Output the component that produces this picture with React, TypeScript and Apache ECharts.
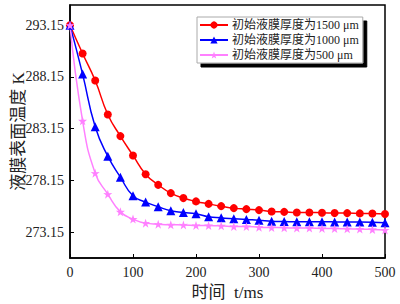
import React, { useEffect, useRef } from "react";
import * as echarts from "echarts";

const times = [0, 20, 40, 60, 80, 100, 120, 140, 160, 180, 200, 220, 240, 260, 280, 300, 320, 340, 360, 380, 400, 420, 440, 460, 480, 500];
const film1500 = [293.15, 290.41, 287.8, 284.52, 282.43, 280.56, 278.75, 277.72, 276.92, 276.44, 276.12, 275.88, 275.66, 275.47, 275.37, 275.28, 275.15, 275.11, 275.05, 275.05, 275.02, 275.0, 274.99, 274.96, 274.95, 274.9];
const film1000 = [293.15, 288.42, 283.33, 280.49, 278.46, 276.66, 276.05, 275.6, 275.21, 275.05, 274.92, 274.63, 274.53, 274.44, 274.37, 274.31, 274.21, 274.18, 274.15, 274.15, 274.15, 274.14, 274.12, 274.12, 274.11, 274.06];
const film500 = [293.15, 283.91, 278.85, 276.82, 275.11, 274.41, 274.02, 273.92, 273.86, 273.85, 273.8, 273.78, 273.76, 273.7, 273.69, 273.63, 273.6, 273.58, 273.54, 273.54, 273.51, 273.5, 273.47, 273.45, 273.41, 273.36];
const yTickValues = [273.15, 278.15, 283.15, 288.15, 293.15];
const seriesNames = ["初始液膜厚度为1500 μm", "初始液膜厚度为1000 μm", "初始液膜厚度为500 μm"];

const STAR = "path://M50,0 L61.8,35.1 L97.6,34.5 L69,56.9 L79.4,90.5 L50,70 L20.6,90.5 L31,56.9 L2.4,34.5 L38.2,35.1 Z";
const serif = "'Liberation Serif', 'DejaVu Serif', 'Noto Sans CJK SC', serif";
const cjk = "'Liberation Serif', 'Noto Sans CJK SC', serif";

export default function App() {
  const ref = useRef<HTMLDivElement>(null);
  useEffect(() => {
    if (!ref.current) return;
    const chart = echarts.init(ref.current, null, { renderer: "svg" });
    const mk = (arr: number[]) => times.map((t, i) => [t, arr[i]]);
    const series = [
      { name: seriesNames[0], data: mk(film1500), color: "#ff0000", symbol: "circle", symbolSize: 8 },
      { name: seriesNames[1], data: mk(film1000), color: "#0000ff", symbol: "triangle", symbolSize: 9 },
      { name: seriesNames[2], data: mk(film500), color: "#ff80ff", symbol: STAR, symbolSize: 9 },
    ].map((s) => ({
      type: "line",
      name: s.name,
      data: s.data,
      smooth: true,
      symbol: s.symbol,
      symbolSize: s.symbolSize,
      showSymbol: true,
      itemStyle: { color: s.color },
      lineStyle: { color: s.color, width: 1.5 },
      z: 3,
    }));
    chart.setOption({
      animation: false,
      backgroundColor: "#ffffff",
      grid: {
        left: 70,
        right: 15,
        top: 5,
        bottom: 46,
        outerBoundsMode: "none",
        containLabel: false,
        show: true,
        borderColor: "#000",
        borderWidth: 1.5,
        backgroundColor: "transparent",
      },
      legend: {
        orient: "vertical",
        left: 197,
        top: 17,
        itemWidth: 28,
        itemHeight: 9,
        itemGap: 3,
        padding: [2, 4, 2, 2],
        backgroundColor: "#fff",
        borderColor: "#aaa",
        borderWidth: 1,
        shadowColor: "#000",
        shadowBlur: 0,
        shadowOffsetX: 4,
        shadowOffsetY: 4,
        textStyle: { fontSize: 12, fontFamily: cjk, color: "#222", padding: [0, 0, 0, -1] },
        data: seriesNames,
      },
      xAxis: {
        type: "value",
        min: 0,
        max: 500,
        interval: 100,
        name: "时间  t/ms",
        nameLocation: "middle",
        nameGap: 26,
        nameMoveOverlap: false,
        nameTextStyle: { fontSize: 17, fontFamily: cjk, color: "#222" },
        axisLine: { show: true, lineStyle: { color: "#000", width: 1.5 } },
        axisTick: { show: true, inside: true, length: 4, lineStyle: { color: "#000" } },
        axisLabel: { fontSize: 14, fontFamily: serif, color: "#222", margin: 7 },
        splitLine: { show: false },
      },
      yAxis: {
        type: "value",
        min: 270.65,
        max: 295.1,
        name: "液膜表面温度 K",
        nameLocation: "middle",
        nameGap: 43,
        nameRotate: 90,
        nameMoveOverlap: false,
        nameTextStyle: { fontSize: 17, fontFamily: cjk, color: "#222" },
        axisLine: { show: true, lineStyle: { color: "#000", width: 1.5 } },
        axisTick: { show: true, inside: true, length: 4, customValues: yTickValues, lineStyle: { color: "#000" } },
        axisLabel: {
          fontSize: 14,
          fontFamily: serif,
          color: "#222",
          margin: 6,
          customValues: yTickValues,
          formatter: (v: number) => v.toFixed(2),
        },
        splitLine: { show: false },
      },
      series,
    });
    return () => chart.dispose();
  }, []);
  return <div ref={ref} style={{ width: 400, height: 304, position: "absolute", left: 0, top: 0 }} />;
}
